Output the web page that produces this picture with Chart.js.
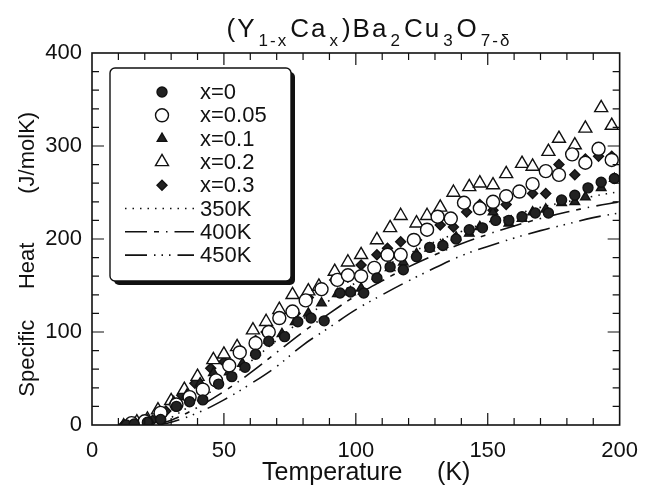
<!DOCTYPE html>
<html>
<head>
<meta charset="utf-8">
<script src="https://cdn.jsdelivr.net/npm/chart.js@4.4.1/dist/chart.umd.min.js"></script>
<style>
  html, body { margin: 0; padding: 0; background: #fff; }
  #wrap { position: relative; width: 651px; height: 488px; }
  #title {
    position: absolute; left: 0; top: 13px; width: 740px;
    text-align: center; color: #111;
    font: 26px "Liberation Sans", Arial, sans-serif; letter-spacing: 2px;
  }
  #title sub { font-size: 17px; vertical-align: -9px; margin: 0 2px; }
</style>
</head>
<body>
<div id="wrap">
  <div id="title">(Y<sub>1-x</sub>Ca<sub>x</sub>)Ba<sub>2</sub>Cu<sub>3</sub>O<sub>7-δ</sub></div>
  <canvas id="chart"></canvas>
</div>
<script>
const temps0 = [13, 16, 21, 26, 32, 37, 42, 48, 53, 58, 62, 67, 73, 78, 83, 88, 94, 98, 103, 108, 113, 118, 123, 128, 133, 138, 143, 148, 153, 158, 163, 168, 173, 178, 183, 188, 193, 198];
const heat0 = [0, 1, 3, 6, 20, 25, 27, 44, 52, 62, 76, 90, 95, 111, 115, 112, 142, 143, 142, 158, 170, 167, 181, 191, 193, 200, 210, 212, 220, 220, 224, 228, 228, 242, 247, 255, 261, 265];

const temps005 = [15, 20, 26, 32, 37, 42, 47, 52, 56, 62, 67, 71, 76, 81, 87, 93, 97, 102, 107, 112, 117, 122, 127, 131, 136, 141, 147, 152, 157, 162, 167, 172, 177, 182, 187, 192, 197];
const heat005 = [2, 4, 13, 22, 30, 38, 48, 64, 78, 88, 100, 115, 122, 134, 146, 156, 161, 160, 169, 183, 183, 199, 210, 224, 222, 239, 233, 240, 246, 251, 259, 273, 269, 291, 282, 297, 285];

const temps01 = [12, 16, 21, 26, 31, 36, 41, 46, 52, 57, 62, 67, 72, 77, 82, 87, 93, 98, 102, 108, 113, 118, 123, 128, 133, 138, 143, 147, 152, 158, 163, 167, 172, 178, 183, 187, 193, 198];
const heat01 = [1, 2, 5, 10, 25, 33, 45, 56, 57, 66, 78, 91, 98, 111, 120, 131, 141, 143, 147, 160, 169, 175, 184, 190, 194, 202, 206, 213, 229, 217, 222, 229, 232, 239, 240, 245, 255, 265];

const temps02 = [17, 21, 25, 30, 35, 40, 46, 50, 55, 61, 66, 71, 76, 82, 86, 92, 97, 102, 108, 113, 117, 123, 127, 132, 137, 143, 147, 152, 157, 163, 167, 173, 177, 183, 187, 193, 197];
const heat02 = [3, 6, 16, 26, 38, 52, 70, 76, 84, 102, 111, 124, 140, 144, 149, 165, 175, 183, 199, 212, 225, 217, 225, 234, 250, 256, 260, 258, 270, 281, 278, 294, 308, 301, 319, 341, 322];

const temps03 = [12, 17, 23, 28, 34, 39, 45, 50, 56, 62, 66, 71, 77, 82, 87, 92, 97, 102, 108, 112, 117, 123, 127, 132, 137, 142, 147, 152, 157, 162, 167, 172, 177, 183, 187, 192, 197];
const heat03 = [0, 2, 5, 15, 32, 45, 61, 68, 77, 91, 100, 116, 120, 137, 145, 156, 159, 172, 183, 190, 197, 199, 209, 215, 213, 229, 237, 231, 237, 251, 249, 249, 280, 269, 286, 289, 289];

// Debye curves
const curveTemps = [25, 30, 40, 50, 60, 70, 80, 90, 100, 110, 120, 130, 140, 150, 160, 170, 180, 190, 200];
const debye350 = [2, 8, 26, 46, 68, 91, 114, 134, 153, 169, 184, 197, 208, 218, 226, 234, 240, 246, 251];
const debye400 = [1, 5, 19, 36, 56, 78, 100, 120, 139, 155, 170, 183, 195, 205, 214, 222, 229, 235, 240];
const debye450 = [0, 3, 13, 27, 44, 63, 86, 105, 124, 140, 155, 169, 182, 192, 201, 209, 216, 223, 228];

const ink = '#111';
const fontFamily = '"Liberation Sans", Arial, sans-serif';

const pts = (xs, ys) => xs.map((t, i) => ({ x: t, y: ys[i] }));

function marker(label, xs, ys, style, radius, filled) {
  return {
    label: label,
    data: pts(xs, ys),
    showLine: false,
    pointStyle: style,
    pointRadius: radius,
    pointBorderWidth: 1.4,
    pointBorderColor: ink,
    pointBackgroundColor: filled ? '#222' : '#fff',
    order: 0,
  };
}

function curve(label, ys, dash) {
  return {
    label: label,
    data: pts(curveTemps, ys),
    showLine: true,
    borderColor: ink,
    borderWidth: 1.6,
    borderDash: dash,
    pointRadius: 0,
    tension: 0.4,
    order: 1,
  };
}

const datasets = [
  marker('x=0', temps0, heat0, 'circle', 5, true),
  marker('x=0.05', temps005, heat005, 'circle', 6.5, false),
  marker('x=0.1', temps01, heat01, 'triangle', 5.5, true),
  marker('x=0.2', temps02, heat02, 'triangle', 7.5, false),
  marker('x=0.3', temps03, heat03, 'rectRot', 5, true),
  curve('350K', debye350, [1.5, 6]),
  curve('400K', debye400, [22, 7, 5, 7, 1.5, 7]),
  curve('450K', debye450, [22, 7, 1.5, 6, 1.5, 6, 1.5, 7]),
];

// frame with inward ticks on all four sides
const frameTicks = {
  id: 'frameTicks',
  afterDatasetsDraw(c) {
    const { ctx, chartArea: a, scales: { x, y } } = c;
    ctx.save();
    ctx.strokeStyle = ink;
    ctx.lineWidth = 1.6;
    ctx.strokeRect(a.left, a.top, a.width, a.height);
    ctx.lineWidth = 1.2;
    ctx.beginPath();
    for (let t = 10; t < 200; t += 10) {
      const px = x.getPixelForValue(t);
      const len = t % 50 === 0 ? 12 : 7;
      ctx.moveTo(px, a.bottom); ctx.lineTo(px, a.bottom - len);
      ctx.moveTo(px, a.top); ctx.lineTo(px, a.top + len);
    }
    for (let v = 20; v < 400; v += 20) {
      const py = y.getPixelForValue(v);
      const len = v % 100 === 0 ? 12 : 7;
      ctx.moveTo(a.left, py); ctx.lineTo(a.left + len, py);
      ctx.moveTo(a.right, py); ctx.lineTo(a.right - len, py);
    }
    ctx.stroke();
    ctx.restore();
  },
};

// boxed legend with drop shadow, drawn from the datasets
const boxLegend = {
  id: 'boxLegend',
  afterDraw(c) {
    const ctx = c.ctx;
    const bx = 110, by = 68, bw = 181, bh = 213;
    ctx.save();
    ctx.fillStyle = ink;
    ctx.beginPath();
    ctx.roundRect(bx + 4, by + 4, bw, bh, 5);
    ctx.fill();
    ctx.fillStyle = '#fff';
    ctx.strokeStyle = ink;
    ctx.lineWidth = 1.4;
    ctx.beginPath();
    ctx.roundRect(bx, by, bw, bh, 5);
    ctx.fill();
    ctx.stroke();

    ctx.font = '22px ' + fontFamily;
    ctx.textBaseline = 'middle';
    c.data.datasets.forEach((ds, i) => {
      const rowY = by + 24 + i * 23.3;
      if (ds.showLine) {
        ctx.save();
        ctx.lineWidth = 1.6;
        ctx.setLineDash(ds.borderDash);
        ctx.beginPath();
        ctx.moveTo(bx + 15, rowY);
        ctx.lineTo(bx + 84, rowY);
        ctx.stroke();
        ctx.restore();
      } else {
        ctx.save();
        ctx.fillStyle = ds.pointBackgroundColor;
        ctx.strokeStyle = ds.pointBorderColor;
        ctx.lineWidth = ds.pointBorderWidth;
        Chart.helpers.drawPoint(ctx, {
          pointStyle: ds.pointStyle, radius: ds.pointRadius, rotation: 0, borderWidth: ds.pointBorderWidth,
        }, bx + 52, rowY);
        ctx.restore();
      }
      ctx.fillStyle = ink;
      ctx.fillText(ds.label, bx + 90, rowY + 1);
    });
    ctx.restore();
  },
};

const tickFont = { family: fontFamily, size: 22 };

new Chart(document.getElementById('chart'), {
  type: 'scatter',
  data: { datasets: datasets },
  options: {
    responsive: true,
    maintainAspectRatio: false,
    animation: false,
    layout: { padding: { top: 53, right: 19, bottom: 0, left: 12 } },
    scales: {
      x: {
        type: 'linear',
        min: 0,
        max: 200,
        grid: { display: false, drawTicks: false },
        border: { display: false },
        ticks: { stepSize: 50, color: ink, font: tickFont, padding: 13, maxRotation: 0 },
        title: {
          // leading spaces nudge the centred title right, as in the original
          display: true, text: '   Temperature     (K)', color: ink,
          font: { family: fontFamily, size: 25 },
          padding: { top: 0, bottom: 0 },
        },
        afterFit: (s) => { s.height = 63; },
      },
      y: {
        min: 0,
        max: 400,
        grid: { display: false, drawTicks: false },
        border: { display: false },
        ticks: { stepSize: 100, color: ink, font: tickFont, padding: 10 },
        title: {
          // trailing spaces push the rotated title down a little
          display: true, text: 'Specific     Heat        (J/molK)     ', color: ink, font: tickFont,
          padding: { top: 3, bottom: 0 },
        },
        afterFit: (s) => { s.width = 80; },
      },
    },
    plugins: {
      legend: { display: false },
      tooltip: { enabled: false },
    },
  },
  plugins: [frameTicks, boxLegend],
});
</script>
</body>
</html>
